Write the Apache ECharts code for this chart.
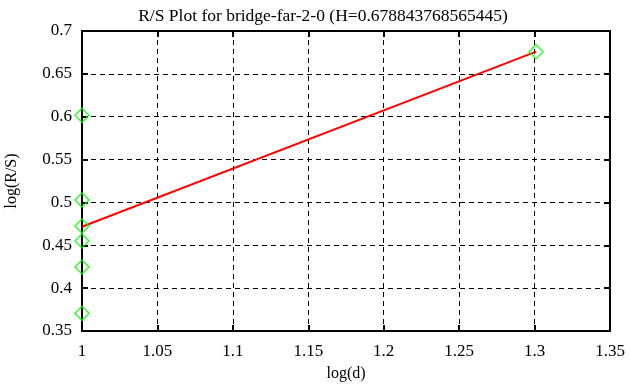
<!DOCTYPE html>
<html>
<head>
<meta charset="utf-8">
<title>R/S Plot</title>
<script src="https://cdn.jsdelivr.net/npm/echarts@6/dist/echarts.min.js"></script>
<style>
  html, body { margin: 0; padding: 0; background: #fff; }
  #main { width: 631px; height: 387px; }
</style>
</head>
<body>
<div id="main"></div>
<script>
// data
var logD = [1, 1, 1, 1, 1, 1, 1.30103];
var logRS = [0.3706, 0.4246, 0.455, 0.4725, 0.5028, 0.6016, 0.6759];
var fitX = [1, 1.30103];
var fitY = [0.4716, 0.6759];
var xTicks = [1, 1.05, 1.1, 1.15, 1.2, 1.25, 1.3, 1.35];
var yTicks = [0.35, 0.4, 0.45, 0.5, 0.55, 0.6, 0.65, 0.7];

var font = 'Liberation Serif';
var chart = echarts.init(document.getElementById('main'));

function axisBase(min, max, step) {
    return {
        type: 'value', min: min, max: max, interval: step,
        axisLine: { show: true, lineStyle: { color: '#000', width: 2 } },
        axisTick: { show: true, inside: true, length: 6, lineStyle: { color: '#000', width: 2 } },
        splitLine: { show: false },
        axisLabel: { show: false }
    };
}

var xMain = axisBase(xTicks[0], xTicks[xTicks.length - 1], 0.05);
xMain.position = 'bottom';
xMain.axisLabel = { show: true, color: '#000', fontFamily: font, fontSize: 17, margin: 12,
    formatter: function (v) { return String(+v.toFixed(2)); } };
xMain.splitLine = { show: true, lineStyle: { color: '#000', type: [5, 4], width: 1 } };
xMain.name = 'log(d)';
xMain.nameLocation = 'middle';
xMain.nameGap = 35;
xMain.nameTextStyle = { color: '#000', fontFamily: font, fontSize: 16 };

var xTop = axisBase(xTicks[0], xTicks[xTicks.length - 1], 0.05);
xTop.position = 'top';

var yMain = axisBase(yTicks[0], yTicks[yTicks.length - 1], 0.05);
yMain.position = 'left';
yMain.axisLabel = { show: true, color: '#000', fontFamily: font, fontSize: 17, margin: 10,
    formatter: function (v) { return String(+v.toFixed(2)); } };
yMain.splitLine = { show: true, lineStyle: { color: '#000', type: [5, 4], width: 1 } };
yMain.name = 'log(R/S)';
yMain.nameLocation = 'middle';
yMain.nameGap = 62;
yMain.nameTextStyle = { color: '#000', fontFamily: font, fontSize: 16 };

var yRight = axisBase(yTicks[0], yTicks[yTicks.length - 1], 0.05);
yRight.position = 'right';

var option = {
    backgroundColor: '#fff',
    animation: false,
    title: {
        text: 'R/S Plot for bridge-far-2-0 (H=0.678843768565445)',
        left: 318, textAlign: 'center', top: 2,
        textStyle: { color: '#000', fontFamily: font, fontSize: 17.5, fontWeight: 'normal' }
    },
    grid: { left: 82, right: 21, top: 31, bottom: 56, outerBoundsMode: 'none', containLabel: false },
    xAxis: [xMain, xTop],
    yAxis: [yMain, yRight],
    series: [
        {
            type: 'line',
            data: fitX.map(function (x, i) { return [x, fitY[i]]; }),
            showSymbol: false,
            lineStyle: { color: '#ff0000', width: 2 },
            z: 2
        },
        {
            type: 'scatter',
            data: logD.map(function (x, i) { return [x, logRS[i]]; }),
            symbol: 'diamond',
            symbolSize: 14,
            itemStyle: { color: 'rgba(0,0,0,0)', borderColor: '#00ff00', borderWidth: 1.5 },
            z: 3
        }
    ]
};

chart.setOption(option);
</script>
</body>
</html>
